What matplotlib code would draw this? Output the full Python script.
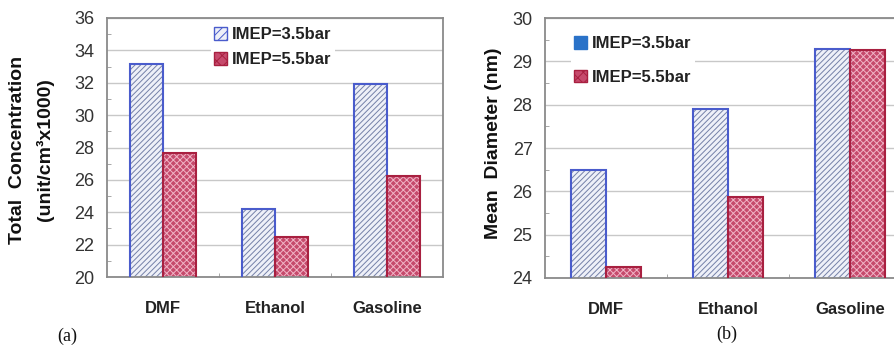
import matplotlib
matplotlib.use('Agg')
import matplotlib.pyplot as plt
import numpy as np
from matplotlib.patches import Patch

categories = ['DMF', 'Ethanol', 'Gasoline']
series_labels = ['IMEP=3.5bar', 'IMEP=5.5bar']
conc_35 = [33.15, 24.2, 31.95]
conc_55 = [27.65, 22.45, 26.25]
diam_35 = [26.5, 27.89, 29.28]
diam_55 = [24.25, 25.87, 29.27]
conc_ticks = [20, 22, 24, 26, 28, 30, 32, 34, 36]
diam_ticks = [24, 25, 26, 27, 28, 29, 30]

plt.rcParams['font.family'] = ['Liberation Sans', 'DejaVu Sans']
plt.rcParams['hatch.linewidth'] = 0.7

W, H = 894, 346
fig = plt.figure(figsize=(W / 100, H / 100), dpi=100)

ax1 = fig.add_axes([107 / W, 1 - 277 / H, (443 - 107) / W, (277 - 18) / H])
ax2 = fig.add_axes([545 / W, 1 - 278 / H, (911 - 545) / W, (278 - 18) / H])

BLUE_FACE = '#eef0f8'
BLUE_HATCH = '#7480a8'
BLUE_EDGE = '#4a5ccc'
RED_FACE = '#c64a6c'
RED_HATCH = '#f0b4c6'
RED_EDGE = '#a82040'


def draw_bars(ax, xs, vals, width, face, hatch, hcol, edge):
    ax.bar(xs, vals, width, color=face, hatch=hatch, edgecolor=hcol, linewidth=0, zorder=2)
    ax.bar(xs, vals, width, fill=False, edgecolor=edge, linewidth=1.5, zorder=3)


def style_axes(ax, ticks, pad_y):
    ax.set_xlim(-0.5, 2.5)
    ax.set_ylim(ticks[0], ticks[-1])
    ax.set_yticks(ticks)
    ax.set_yticklabels([str(t) for t in ticks])
    ax.set_yticks([(a + b) / 2 for a, b in zip(ticks[:-1], ticks[1:])], minor=True)
    ax.set_xticks(range(len(categories)))
    ax.set_xticklabels(categories, fontweight='bold', fontsize=12)
    ax.set_xticks([0.5, 1.5], minor=True)
    ax.tick_params(axis='x', which='major', length=0, pad=17, colors='#222222')
    ax.tick_params(axis='x', which='minor', direction='in', length=3, color='#999999')
    ax.tick_params(axis='y', which='major', length=0, pad=pad_y, labelsize=13, colors='#333333')
    ax.tick_params(axis='y', which='minor', direction='in', length=3, color='#999999')
    ax.grid(axis='y', which='major', color='#c8c8c8', linewidth=1.0, zorder=0)
    ax.set_axisbelow(True)
    for s in ax.spines.values():
        s.set_color('#8a8a8a')
        s.set_linewidth(1.3)


x = np.arange(len(categories))
bw1 = 0.295
draw_bars(ax1, x - bw1 / 2, conc_35, bw1, BLUE_FACE, '//////', BLUE_HATCH, BLUE_EDGE)
draw_bars(ax1, x + bw1 / 2, conc_55, bw1, RED_FACE, 'xxxxx', RED_HATCH, RED_EDGE)
style_axes(ax1, conc_ticks, 9)

bw2 = 0.287
draw_bars(ax2, x - bw2 / 2, diam_35, bw2, BLUE_FACE, '//////', BLUE_HATCH, BLUE_EDGE)
draw_bars(ax2, x + bw2 / 2, diam_55, bw2, RED_FACE, 'xxxxx', RED_HATCH, RED_EDGE)
style_axes(ax2, diam_ticks, 9)

h1 = [Patch(facecolor=BLUE_FACE, hatch='////', edgecolor=BLUE_EDGE, linewidth=1),
      Patch(facecolor=RED_FACE, hatch='xxx', edgecolor=RED_EDGE, linewidth=1)]
leg1 = ax1.legend(h1, series_labels, loc='upper left',
                  bbox_to_anchor=(211 / W, 1 - 24 / H), bbox_transform=fig.transFigure,
                  frameon=True, fancybox=False, edgecolor='none', facecolor='white', framealpha=1,
                  prop={'weight': 'bold', 'size': 12}, handlelength=0.75, handleheight=0.75,
                  handletextpad=0.3, labelspacing=0.6, borderpad=0.2, borderaxespad=0)
for t in leg1.get_texts():
    t.set_color('#222222')

h2 = [Patch(facecolor='#2a72c8', edgecolor='#2a72c8', linewidth=1),
      Patch(facecolor=RED_FACE, hatch='xxx', edgecolor=RED_EDGE, linewidth=1)]
leg2 = ax2.legend(h2, series_labels, loc='upper left',
                  bbox_to_anchor=(571 / W, 1 - 33 / H), bbox_transform=fig.transFigure,
                  frameon=True, fancybox=False, edgecolor='none', facecolor='white', framealpha=1,
                  prop={'weight': 'bold', 'size': 12}, handlelength=0.75, handleheight=0.75,
                  handletextpad=0.3, labelspacing=1.1, borderpad=0.2, borderaxespad=0)
for t in leg2.get_texts():
    t.set_color('#222222')

fig.text(18 / W, 1 - 150 / H, 'Total  Concentration', rotation=90, ha='center', va='center',
         fontsize=14, fontweight='bold', color='#111111')
fig.text(45 / W, 1 - 150 / H, '(unit/cm³x1000)', rotation=90, ha='center', va='center',
         fontsize=14, fontweight='bold', color='#111111')
fig.text(493 / W, 1 - 143 / H, 'Mean  Diameter (nm)', rotation=90, ha='center', va='center',
         fontsize=14, fontweight='bold', color='#111111')

fig.text(67 / W, 1 - 336 / H, '(a)', ha='center', va='center', fontsize=13,
         family='Liberation Serif', color='#111111')
fig.text(727 / W, 1 - 334 / H, '(b)', ha='center', va='center', fontsize=13,
         family='Liberation Serif', color='#111111')

fig.savefig('out.png', dpi=100)
